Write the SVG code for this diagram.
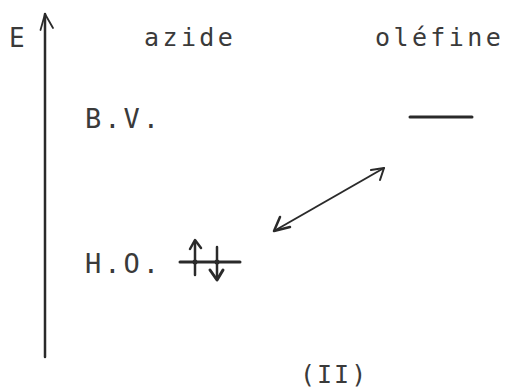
<svg xmlns="http://www.w3.org/2000/svg" width="510" height="389" viewBox="0 0 510 389">
<style>
.t{font-family:"DejaVu Sans Mono","Liberation Mono",monospace;fill:#3a3a3a}
.ln{stroke:#2a2a2a;fill:none;stroke-linecap:round;stroke-linejoin:round}
</style>
<rect width="510" height="389" fill="#fff"/>
<g id="axis">
<line class="ln" x1="45" y1="14" x2="45" y2="357" stroke-width="2.5"/>
<polyline class="ln" points="40.5,30 45,14 53,28" stroke-width="1.8"/>
<text class="t" x="9" y="47" font-size="26">E</text>
</g>
<g id="azide-title"><text class="t" x="144" y="46" font-size="25" letter-spacing="3.4">azide</text></g>
<g id="olefine-title"><text class="t" x="375" y="46" font-size="25" letter-spacing="3.4">oléfine</text></g>
<g id="bv"><text class="t" x="85" y="128" font-size="27" letter-spacing="3">B.V.</text></g>
<g id="ho"><text class="t" x="85" y="273" font-size="27" letter-spacing="3">H.O.</text></g>
<g id="olefine-bv">
<line class="ln" x1="410" y1="117" x2="472" y2="117" stroke-width="3"/>
</g>
<g id="azide-ho">
<line class="ln" x1="180" y1="262" x2="240" y2="262" stroke-width="3"/>
<line class="ln" x1="195" y1="241" x2="195" y2="275" stroke-width="2.5"/>
<polyline class="ln" points="190,249 195,240 201,248" stroke-width="2.5"/>
<line class="ln" x1="217" y1="247" x2="217" y2="279" stroke-width="2.5"/>
<polyline class="ln" points="210,270 217,280 223,270" stroke-width="3"/>
<circle cx="195" cy="262" r="2.5" fill="#2a2a2a"/>
<circle cx="217" cy="262" r="2.5" fill="#2a2a2a"/>
</g>
<g id="connectors">
<line class="ln" x1="274" y1="231" x2="384" y2="168" stroke-width="2"/>
<polyline class="ln" points="280,217 274,231 290,227" stroke-width="2.5"/>
<polyline class="ln" points="371,170 384,168 380,180" stroke-width="2"/>
</g>
<g id="label"><text class="t" x="300" y="383" font-size="25" letter-spacing="2">(II)</text></g>
</svg>
